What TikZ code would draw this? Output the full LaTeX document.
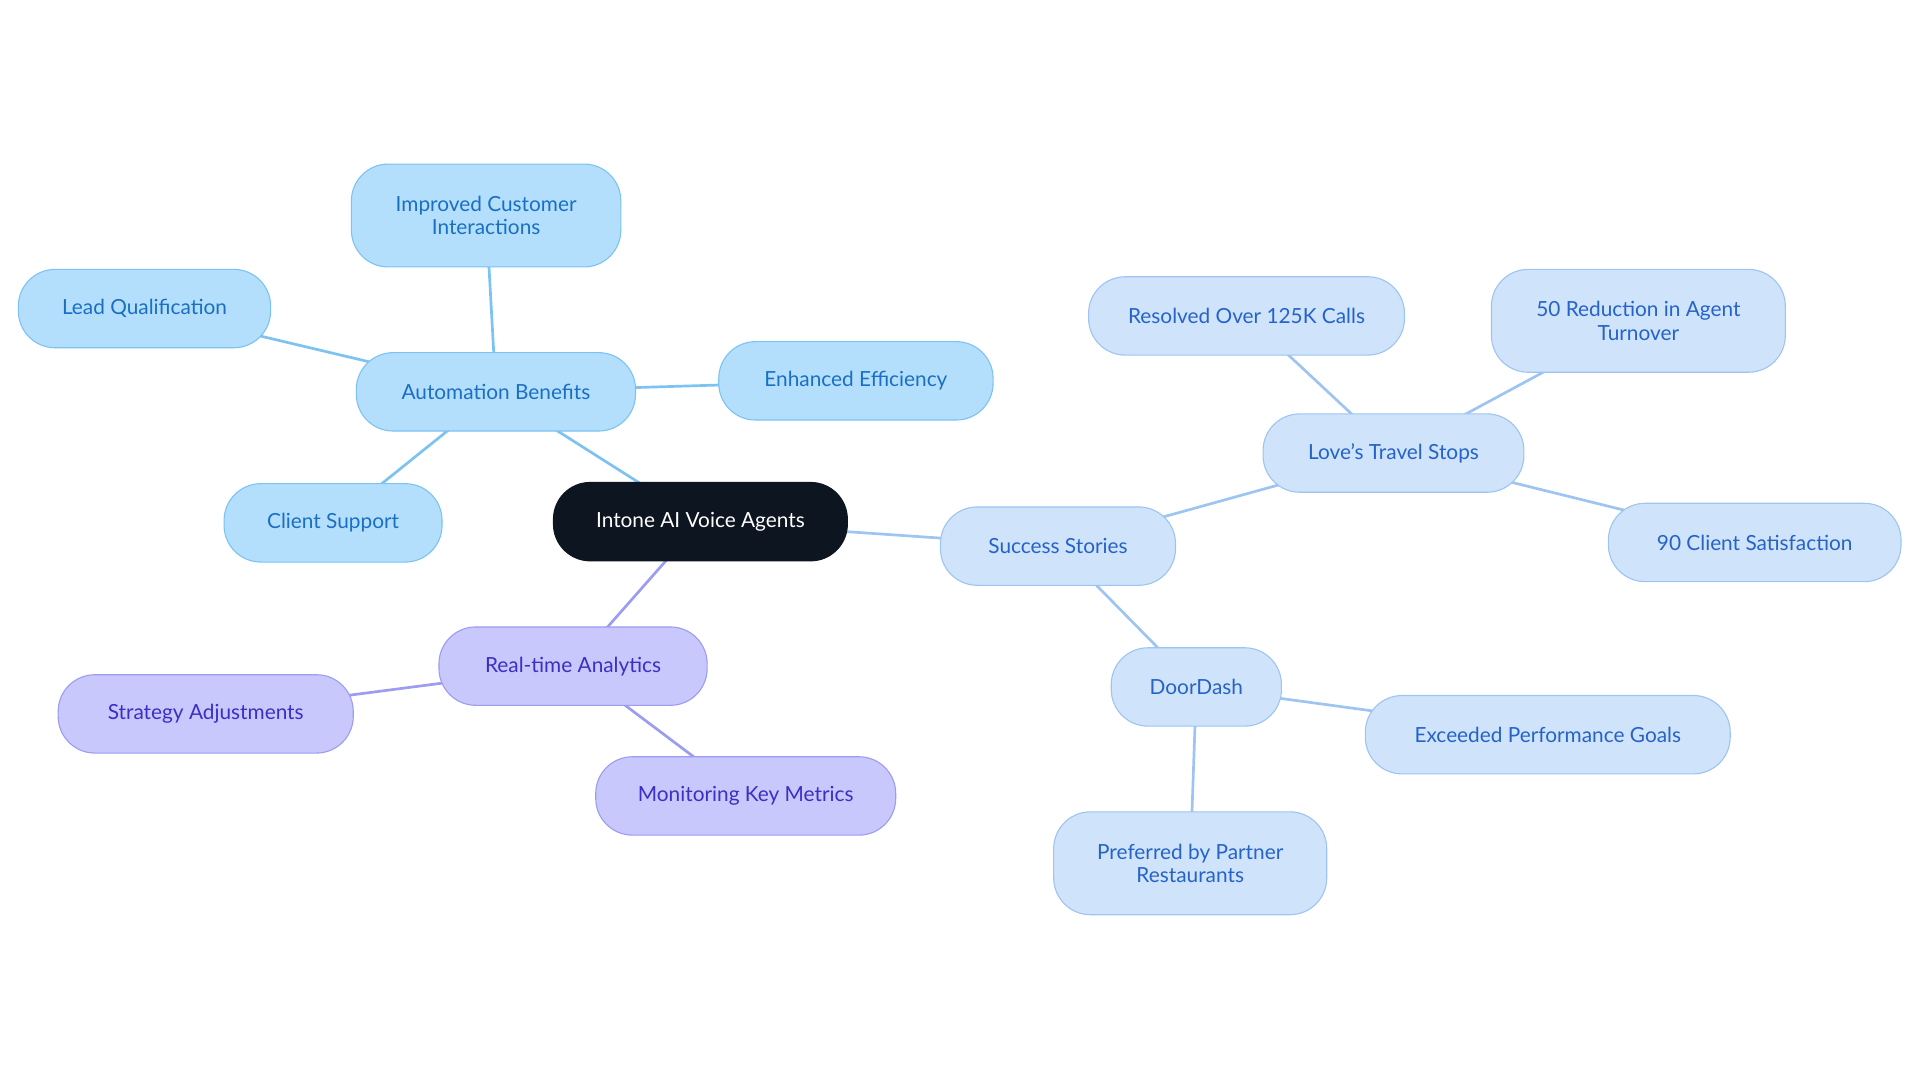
\documentclass[tikz,border=0pt]{standalone}
\usepackage{fontspec}
\setmainfont{Lato}
\usetikzlibrary{backgrounds}
\definecolor{bfill}{HTML}{B3DFFD}\definecolor{bline}{HTML}{7CC3F2}\definecolor{btext}{HTML}{1A6FC4}
\definecolor{sfill}{HTML}{CFE3FA}\definecolor{sline}{HTML}{9EC4F2}\definecolor{stext}{HTML}{2563C9}
\definecolor{pfill}{HTML}{C8C8FC}\definecolor{pline}{HTML}{9C9CF0}\definecolor{ptext}{HTML}{3B2FC4}
\definecolor{cfill}{HTML}{0D1520}
\tikzset{
 base/.style={rounded corners=30pt,line width=0.9pt,minimum height=64pt,align=center,font=\fontsize{17}{19}\selectfont,inner sep=0pt},
 bnode/.style={base,fill=bfill,draw=bline,text=btext},
 snode/.style={base,fill=sfill,draw=sline,text=stext},
 pnode/.style={base,fill=pfill,draw=pline,text=ptext},
 cnode/.style={base,fill=cfill,draw=cfill,text=white},
 bedge/.style={draw=bline,line width=2.2pt},
 sedge/.style={draw=sline,line width=2.2pt},
 pedge/.style={draw=pline,line width=2.2pt},
}
\begin{document}
\begin{tikzpicture}[x=1pt,y=-1pt]
\useasboundingbox (0,0) rectangle (1568,884);
\node[cnode,minimum width=240pt] (c) at (572,426) {Intone AI Voice Agents};
\node[bnode,minimum width=228pt] (ab) at (405,320) {Automation Benefits};
\node[bnode,minimum width=220pt,minimum height=84pt] (ic) at (397,176) {Improved Customer\\Interactions};
\node[bnode,minimum width=206pt] (lq) at (118,252) {Lead Qualification};
\node[bnode,minimum width=224pt] (ee) at (699,311) {Enhanced Efficiency};
\node[bnode,minimum width=178pt] (cs) at (272,427) {Client Support};
\node[pnode,minimum width=219pt] (ra) at (468,544) {Real-time Analytics};
\node[pnode,minimum width=241pt] (sa) at (168,583) {Strategy Adjustments};
\node[pnode,minimum width=245pt] (mk) at (609,650) {Monitoring Key Metrics};
\node[snode,minimum width=192pt] (ss) at (864,446) {Success Stories};
\node[snode,minimum width=213pt] (lt) at (1138,370) {Love's Travel Stops};
\node[snode,minimum width=258pt] (rc) at (1018,258) {Resolved Over 125K Calls};
\node[snode,minimum width=240pt,minimum height=84pt] (rt) at (1338,262) {50 Reduction in Agent\\Turnover};
\node[snode,minimum width=239pt] (cl) at (1433,443) {90 Client Satisfaction};
\node[snode,minimum width=139pt] (dd) at (977,561) {DoorDash};
\node[snode,minimum width=298pt] (pg) at (1264,600) {Exceeded Performance Goals};
\node[snode,minimum width=223pt,minimum height=84pt] (pr) at (972,705) {Preferred by Partner\\Restaurants};
\begin{scope}[on background layer]
\path[bedge] (c.center)--(ab.center) (ab.center)--(ic.center) (ab.center)--(lq.center) (ab.center)--(ee.center) (ab.center)--(cs.center);
\path[pedge] (c.center)--(ra.center) (ra.center)--(sa.center) (ra.center)--(mk.center);
\path[sedge] (c.center)--(ss.center) (ss.center)--(lt.center) (lt.center)--(rc.center) (lt.center)--(rt.center) (lt.center)--(cl.center) (ss.center)--(dd.center) (dd.center)--(pg.center) (dd.center)--(pr.center);
\end{scope}
\end{tikzpicture}
\end{document}
